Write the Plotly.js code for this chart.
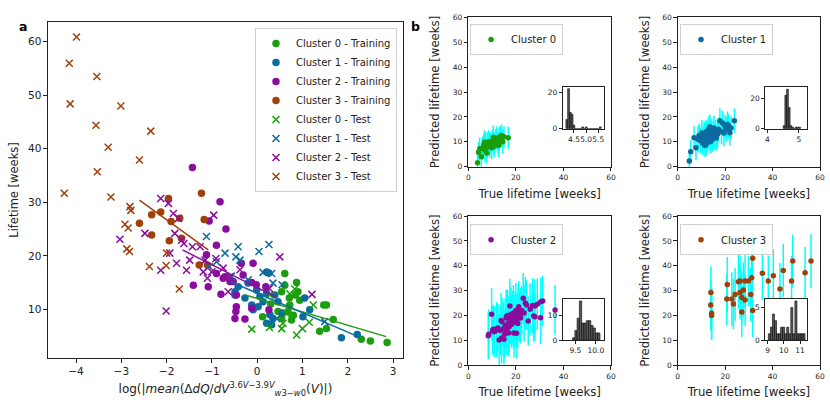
<!DOCTYPE html>
<html>
<head>
<meta charset="utf-8">
<script src="https://cdn.plot.ly/plotly-3.0.1.min.js"></script>
<style>html,body{margin:0;padding:0;background:#fff;}#chart{width:830px;height:415px;}</style>
</head>
<body>
<div id="chart"></div>
<script>
// ---------- Panel a data ----------
const c0TrainX = [0.61, 0.61, 0.87, 0.54, 0.71, 0.94, 0.72, 0.68, 0.76, 0.54, 0.12, 0.46, 0.90, 0.84, 1.47, 1.53, 1.38, 1.53, 1.68, 2.30, 2.50, 2.87, 0.30, 0.80];
const c0TrainY = [16.7, 14.5, 15.0, 13.3, 12.1, 11.7, 10.8, 9.6, 8.0, 8.3, 8.6, 9.6, 13.3, 12.7, 10.8, 10.8, 5.9, 6.4, 8.1, 4.4, 4.1, 3.8, 11.0, 8.9];
const c1TrainX = [0.21, 0.26, 0.28, -0.42, -0.27, -0.12, -0.09, 0.02, 0.21, 0.39, 0.46, 0.21, 0.32, 0.35, 1.05, 1.16, 1.01, 1.86, 2.21, -0.49, -0.20, -0.01, 0.06, 0.13, -0.49, 0.55];
const c1TrainY = [17.0, 16.8, 9.0, 14.2, 12.1, 10.8, 9.9, 10.5, 13.0, 12.7, 11.4, 7.4, 7.1, 8.3, 12.1, 9.9, 8.6, 4.7, 5.3, 12.7, 14.9, 13.6, 12.4, 11.4, 13.3, 9.3];
const c2TrainX = [-1.43, -0.82, -1.06, -0.69, -0.90, -1.12, -1.41, -1.08, -0.80, -0.90, -0.71, -0.53, -0.35, -0.09, -0.46, -0.31, -0.12, -0.75, -0.46, -0.47, -0.49, -0.27, -0.12, 0.19, 0.26, -0.60, -0.02];
const c2TrainY = [36.5, 30.1, 26.5, 25.0, 22.0, 20.2, 14.5, 14.2, 12.8, 16.7, 16.1, 15.2, 18.6, 18.6, 12.7, 16.4, 15.0, 15.8, 10.5, 9.6, 8.3, 8.2, 10.2, 14.2, 9.9, 15.2, 14.6];
const c3TrainX = [-1.23, -1.96, -2.33, -2.13, -2.60, -1.90, -1.71, -1.17, -2.33, -1.94, -1.67, -1.28, -1.10];
const c3TrainY = [31.7, 30.7, 27.7, 28.2, 26.1, 26.4, 27.0, 26.8, 23.9, 22.8, 23.3, 18.3, 18.3];

const c0TestX = [-0.12, 0.27, 0.54, 0.87, 1.00, 1.15, 1.24, 0.83, 0.72, 0.28, 0.57, 0.65];
const c0TestY = [6.3, 6.6, 6.4, 5.2, 6.4, 7.6, 10.8, 13.8, 12.9, 12.7, 7.4, 9.2];
const c1TestX = [-1.12, -0.71, -0.42, -0.47, -0.38, 0.04, 0.26, -1.06, -0.90, 0.13, 0.32, 0.35, -0.57, 0.43, 1.49, -0.20, 0.55];
const c1TestY = [23.6, 20.5, 21.7, 19.8, 19.2, 20.8, 22.1, 18.0, 18.9, 16.9, 16.7, 14.9, 16.2, 8.3, 7.7, 15.5, 14.6];
const c2TestX = [-2.13, -1.96, -1.85, -1.74, -0.96, -3.03, -2.48, -1.82, -1.67, -1.93, -2.13, -1.78, -1.56, -1.43, -1.49, -1.26, -1.15, -1.19, -1.10, -0.91, -0.75, -0.60, -0.64, 0.50, 1.21, -2.01, 0.27, -0.38, -1.62, -1.00];
const c2TestY = [30.7, 29.8, 27.9, 27.0, 27.6, 23.1, 24.2, 24.2, 22.9, 20.5, 17.3, 18.6, 17.3, 21.7, 19.2, 21.7, 19.2, 17.0, 15.8, 19.5, 17.7, 16.1, 13.3, 19.8, 12.8, 9.7, 13.9, 17.4, 22.3, 17.0];
const c3TestX = [-3.99, -4.15, -3.54, -4.13, -3.01, -3.56, -2.35, -3.29, -2.60, -3.53, -4.26, -3.23, -2.81, -2.79, -2.92, -2.85, -2.88, -2.82, -2.00, -2.38, -2.01, -1.72];
const c3TestY = [60.9, 56.0, 53.5, 48.4, 48.0, 44.4, 43.3, 40.3, 37.9, 35.7, 31.7, 31.0, 29.2, 28.5, 25.9, 25.2, 21.3, 20.8, 20.5, 18.0, 18.2, 13.8];

// fitted lines (end points)
const fitX = [[-0.27, 2.85], [-0.60, 2.23], [-1.65, 0.39], [-2.60, -1.08]];
const fitY = [[12.7, 4.9], [15.2, 4.9], [21.1, 12.4], [30.4, 21.1]];

// ---------- Panel b data ----------
const b0True = [3.9, 4.3, 4.8, 5.5, 6.0, 6.5, 7.0, 7.3, 7.8, 8.2, 8.5, 9.0, 9.3, 9.8, 10.2, 10.5, 11.0, 11.5, 12.0, 12.5, 13.0, 13.5, 14.0, 14.5, 15.0, 16.8, 12.8, 10.8, 8.0, 6.8];
const b0Pred = [1.6, 5.8, 7.2, 4.0, 7.5, 8.8, 6.5, 9.5, 5.5, 9.0, 10.0, 8.5, 9.8, 7.6, 10.5, 11.8, 9.2, 10.8, 11.5, 9.6, 11.0, 12.2, 12.5, 10.0, 12.0, 11.6, 8.5, 8.2, 7.8, 9.8];
const b0Err  = [4.0, 4.2, 4.5, 4.3, 4.6, 4.4, 4.8, 4.5, 4.2, 4.7, 4.5, 4.9, 4.4, 4.6, 4.3, 4.8, 4.5, 4.2, 4.6, 4.4, 4.7, 4.3, 4.5, 4.8, 4.2, 4.4, 4.6, 4.5, 4.3, 4.7];

const b1True = [4.9, 5.5, 7.7, 6.9, 8.5, 9.0, 9.5, 10.0, 10.2, 10.5, 11.0, 11.2, 11.5, 11.8, 12.0, 12.3, 12.5, 12.8, 13.0, 13.2, 13.5, 13.8, 14.0, 14.3, 14.6, 15.0, 15.3, 15.6, 16.0, 16.3, 16.8, 17.2, 17.8, 18.5, 19.0, 19.5, 20.0, 20.5, 21.0, 21.5, 22.0, 22.5, 23.9, 13.6, 12.0];
const b1Pred = [2.3, 6.0, 7.6, 11.6, 11.0, 12.5, 10.5, 12.0, 13.5, 9.5, 11.5, 13.0, 8.5, 12.2, 14.0, 10.8, 12.8, 11.5, 15.0, 12.0, 13.5, 10.0, 12.5, 14.0, 11.0, 13.2, 15.5, 12.0, 14.2, 11.5, 13.0, 15.0, 18.5, 14.0, 17.5, 13.5, 16.0, 15.0, 17.0, 16.2, 13.6, 15.5, 18.5, 16.0, 9.0];
const b1Err  = [4.5, 4.8, 5.0, 4.6, 5.2, 4.9, 5.1, 4.7, 5.3, 4.8, 5.0, 5.2, 4.6, 5.1, 4.9, 5.3, 4.8, 5.0, 5.2, 4.7, 5.1, 4.9, 5.0, 5.3, 4.8, 5.2, 4.9, 5.1, 4.7, 5.0, 5.2, 4.8, 5.0, 5.1, 4.9, 5.3, 4.8, 5.0, 5.2, 4.9, 5.1, 4.8, 4.9, 5.0, 4.7];

const b2True = [8.4, 8.6, 9.8, 10.2, 11.0, 11.9, 12.5, 13.0, 13.5, 13.8, 14.2, 14.7, 15.0, 15.3, 15.5, 16.0, 16.2, 16.5, 16.8, 17.0, 17.5, 17.8, 18.0, 18.3, 18.6, 19.0, 19.2, 19.5, 19.8, 20.0, 20.3, 20.5, 20.8, 21.0, 21.5, 22.0, 22.5, 23.1, 23.5, 24.0, 24.5, 25.2, 26.0, 27.0, 27.5, 28.0, 28.0, 29.0, 30.4, 31.3, 30.5, 36.5, 14.0, 12.0, 10.5, 17.2, 16.0, 19.0, 21.2, 22.0];
const b2Pred = [11.9, 12.5, 20.5, 14.0, 13.5, 14.2, 15.0, 10.2, 14.0, 18.0, 17.5, 14.6, 10.5, 12.5, 16.0, 19.0, 14.0, 20.0, 17.0, 13.0, 23.8, 18.5, 20.5, 16.5, 19.5, 21.0, 13.0, 17.5, 20.0, 22.0, 12.9, 18.5, 16.8, 21.5, 19.5, 20.5, 22.0, 26.9, 21.0, 25.0, 24.2, 17.8, 22.5, 24.0, 19.8, 23.8, 19.5, 24.5, 19.1, 25.8, 25.5, 22.2, 11.0, 14.8, 14.5, 15.5, 19.5, 18.0, 23.5, 19.0];
const b2Err  = [9.5, 10.0, 10.5, 9.8, 10.2, 11.0, 9.6, 10.4, 10.0, 11.2, 9.8, 10.6, 10.1, 9.7, 10.8, 11.5, 9.9, 10.3, 10.7, 9.5, 11.0, 10.2, 10.9, 9.8, 10.4, 11.3, 10.0, 10.6, 9.9, 11.1, 10.2, 10.5, 9.8, 11.0, 10.3, 10.7, 9.9, 10.2, 11.4, 10.6, 10.0, 9.8, 10.5, 11.0, 10.2, 10.8, 9.7, 10.4, 10.6, 10.1, 9.9, 10.0, 10.3, 10.5, 9.8, 10.2, 10.6, 10.0, 10.4, 10.1];

const b3True = [13.9, 14.0, 14.3, 14.3, 20.9, 20.7, 22.8, 23.5, 24.2, 25.6, 26.3, 26.3, 27.0, 27.0, 27.7, 28.4, 28.4, 29.8, 30.8, 31.2, 31.6, 31.6, 35.7, 38.2, 40.3, 43.1, 44.5, 48.0, 48.5, 53.7, 56.2];
const b3Pred = [24.2, 29.3, 20.9, 20.0, 32.5, 26.6, 26.6, 24.6, 28.5, 33.6, 33.9, 29.3, 27.2, 21.4, 30.3, 26.2, 33.9, 33.9, 28.5, 35.2, 43.0, 22.0, 37.0, 33.9, 36.0, 30.7, 38.1, 33.9, 41.9, 37.2, 41.9];
const b3Err  = [10.0, 10.5, 10.2, 9.8, 11.0, 10.4, 10.8, 10.1, 10.6, 11.2, 10.3, 10.9, 10.5, 10.0, 11.1, 10.4, 10.7, 10.2, 10.8, 10.5, 10.3, 10.6, 10.9, 10.2, 10.5, 10.4, 10.8, 10.1, 10.6, 10.3, 10.9];

// ---------- Inset histograms (bin centres and counts) ----------
const h0Centers = [4.206, 4.279, 4.351, 4.424, 4.496, 4.569, 4.641, 4.714, 4.786, 4.859, 4.931, 5.004, 5.076, 5.149, 5.221, 5.294, 5.366, 5.439, 5.511, 5.584];
const h0Counts  = [5, 22, 9, 8, 2, 0, 0, 0, 0, 1, 0, 1, 0, 0, 0, 0, 0, 0, 0, 1];
const h1Centers = [4.5275, 4.5825, 4.6375, 4.6925, 4.7475, 4.8025, 4.8575, 4.9125, 4.9675, 5.0225];
const h1Counts  = [2, 22, 26, 14, 2, 1, 0, 1, 1, 1];
const h2Centers = [9.458, 9.514, 9.569, 9.625, 9.681, 9.737, 9.793, 9.849, 9.904, 9.960, 10.016, 10.072];
const h2Counts  = [1, 4, 9, 16, 7, 7, 8, 8, 6, 5, 3, 3];
const h3Centers = [9.113, 9.238, 9.364, 9.490, 9.615, 9.741, 9.866, 9.992, 10.118, 10.243, 10.369, 10.494, 10.620, 10.746, 10.871, 10.997, 11.122, 11.248];
const h3Counts  = [1, 2, 4, 3, 1, 1, 2, 2, 1, 2, 1, 5, 1, 6, 1, 1, 1, 1];

const clusterNames = ['Cluster 0', 'Cluster 1', 'Cluster 2', 'Cluster 3'];
const colors = ['#1b9e0c', '#0c6ba0', '#8b0d9e', '#a0410c'];
const cyan = '#00ffff';
const FONT = 'DejaVu Sans, Liberation Sans, sans-serif';

const trainX = [c0TrainX, c1TrainX, c2TrainX, c3TrainX];
const trainY = [c0TrainY, c1TrainY, c2TrainY, c3TrainY];
const testX = [c0TestX, c1TestX, c2TestX, c3TestX];
const testY = [c0TestY, c1TestY, c2TestY, c3TestY];

const traces = [];
for (let i = 0; i < 4; i++) {
  traces.push({type:'scatter', mode:'markers', x:trainX[i], y:trainY[i], name: clusterNames[i] + ' - Training',
    marker:{color:colors[i], size:7.5, symbol:'circle'}, xaxis:'x', yaxis:'y', legend:'legend'});
}
for (let i = 0; i < 4; i++) {
  traces.push({type:'scatter', mode:'markers', x:testX[i], y:testY[i], name: clusterNames[i] + ' - Test',
    marker:{color:colors[i], size:7, symbol:'x-thin-open', line:{color:colors[i], width:1.5}}, xaxis:'x', yaxis:'y', legend:'legend'});
}
for (let i = 0; i < 4; i++) {
  traces.push({type:'scatter', mode:'lines', x:fitX[i], y:fitY[i], showlegend:false,
    line:{color:colors[i], width:1.5}, xaxis:'x', yaxis:'y'});
}

const bTrue = [b0True, b1True, b2True, b3True];
const bPred = [b0Pred, b1Pred, b2Pred, b3Pred];
const bErr = [b0Err, b1Err, b2Err, b3Err];
for (let i = 0; i < 4; i++) {
  const ax = String(i + 2);
  traces.push({type:'scatter', mode:'markers', x:bTrue[i], y:bPred[i], name: clusterNames[i],
    error_y:{type:'data', array:bErr[i], visible:true, color:cyan, thickness:1.5, width:0},
    marker:{color:colors[i], size:5.5}, xaxis:'x'+ax, yaxis:'y'+ax, legend:'legend'+ax});
}
const hC = [h0Centers, h1Centers, h2Centers, h3Centers];
const hN = [h0Counts, h1Counts, h2Counts, h3Counts];
for (let i = 0; i < 4; i++) {
  const ax = String(i + 6);
  const w = hC[i][1] - hC[i][0];
  traces.push({type:'bar', x:hC[i], y:hN[i], width:w, showlegend:false,
    marker:{color:'#5a5a5a', line:{color:'#000000', width:0.6}}, xaxis:'x'+ax, yaxis:'y'+ax});
}

function axisBase(domain, range, fs) {
  return {domain:domain, range:range, showline:true, mirror:true, linecolor:'#222', linewidth:1,
    ticks:'outside', ticklen:3.5, tickwidth:1, tickcolor:'#222', showgrid:false, zeroline:false,
    tickfont:{family:FONT, size:fs, color:'#222'}, fixedrange:true, tickangle:0};
}

const colX = [[0.5642, 0.7361], [0.8165, 0.9880]];
const rowY = [[0.5983, 0.9583], [0.1198, 0.4795]];
const insetX = [[0.6780, 0.7273], [0.9220, 0.9727]];
const insetY = [[0.6899, 0.7896], [0.1800, 0.2795]];

const layout = {
  width:830, height:415, margin:{l:0, r:0, t:0, b:0}, paper_bgcolor:'#fff', plot_bgcolor:'#fff',
  font:{family:FONT, color:'#222'}, showlegend:true, hovermode:false,
  xaxis: Object.assign(axisBase([0.0578, 0.4855], [-4.62, 3.22], 10.5), {tickvals:[-4,-3,-2,-1,0,1,2,3], ticktext:['\u22124','\u22123','\u22122','\u22121','0','1','2','3'],
    title:{text:'log(|<i>mean</i>(Δ<i>dQ</i>/<i>dV</i><sup>3.6<i>V</i>\u22123.9<i>V</i></sup><sub><i>w</i>3\u2212<i>w</i>0</sub>(<i>V</i>)|)', font:{family:FONT, size:12, color:'#222'}, standoff:8}}),
  yaxis: Object.assign(axisBase([0.1373, 0.9470], [0.9, 63.7], 10.5), {tickvals:[10,20,30,40,50,60],
    title:{text:'Lifetime [weeks]', font:{family:FONT, size:11.5, color:'#222'}, standoff:6}}),
  legend:{x:0.3072, y:0.9325, xanchor:'left', yanchor:'top', bordercolor:'#d0d0d0', borderwidth:1, bgcolor:'rgba(255,255,255,0.85)', font:{family:FONT, size:10, color:'#222'}, tracegroupgap:0},
  annotations:[
    {text:'<b>a</b>', x:0.0205, y:0.959, xref:'paper', yref:'paper', showarrow:false, font:{family:FONT, size:12.5, color:'#000'}},
    {text:'<b>b</b>', x:0.5012, y:0.959, xref:'paper', yref:'paper', showarrow:false, font:{family:FONT, size:12.5, color:'#000'}}
  ]
};

const legendPos = [[0.5663, 0.9422], [0.8193, 0.9422], [0.5663, 0.4595], [0.8193, 0.4595]];
for (let i = 0; i < 4; i++) {
  const ax = i + 2;
  const c = i % 2, r = Math.floor(i / 2);
  layout['xaxis' + ax] = Object.assign(axisBase(colX[c], [0, 60], 7.5), {tickvals:[0,20,40,60], anchor:'y' + ax,
    title:{text:'True lifetime [weeks]', font:{family:FONT, size:11.7, color:'#222'}, standoff:8}});
  layout['yaxis' + ax] = Object.assign(axisBase(rowY[r], [0, 60], 7.5), {tickvals:[0,10,20,30,40,50,60], anchor:'x' + ax,
    title:{text:'Predicted lifetime [weeks]', font:{family:FONT, size:11.7, color:'#222'}, standoff:10}});
  layout['legend' + ax] = {x:legendPos[i][0], y:legendPos[i][1], xanchor:'left', yanchor:'top', bordercolor:'#d0d0d0', borderwidth:1,
    bgcolor:'rgba(255,255,255,0.85)', font:{family:FONT, size:10, color:'#222'}};
}
const insetRanges = [[[4.04, 5.72], [0, 22.75]], [[3.93, 5.27], [0, 27.3]], [[9.19, 10.19], [0, 16.8]], [[8.86, 11.45], [0, 6.3]]];
const insetXT = [[[4.5, 5.0, 5.5], ['4.5', '5.0', '5.5']], [[4, 5], ['4', '5']], [[9.5, 10.0], ['9.5', '10.0']], [[9, 10, 11], ['9', '10', '11']]];
const insetYT = [[0, 20], [0, 20], [0, 10], [0, 5]];
for (let i = 0; i < 4; i++) {
  const ax = i + 6;
  const c = i % 2, r = Math.floor(i / 2);
  layout['xaxis' + ax] = Object.assign(axisBase(insetX[c], insetRanges[i][0], 7.5), {tickvals:insetXT[i][0], ticktext:insetXT[i][1], anchor:'y' + ax, ticklen:3});
  layout['yaxis' + ax] = Object.assign(axisBase(insetY[r], insetRanges[i][1], 7.5), {tickvals:insetYT[i], anchor:'x' + ax, ticklen:3});
}

Plotly.newPlot('chart', traces, layout, {displayModeBar:false, staticPlot:true});
</script>
</body>
</html>
